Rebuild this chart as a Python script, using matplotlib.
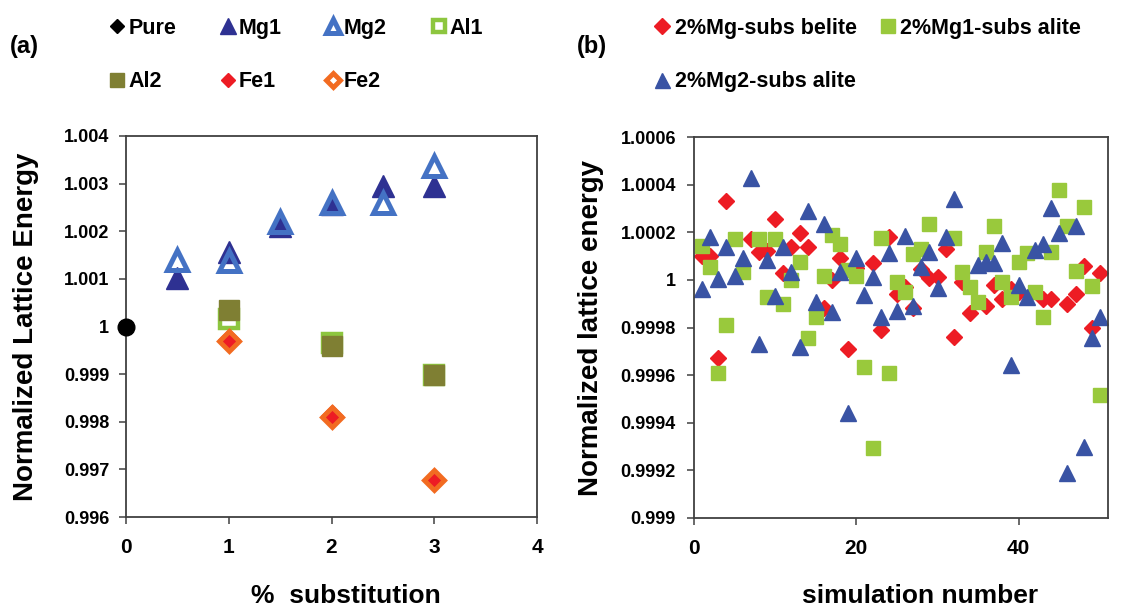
import matplotlib
matplotlib.use('Agg')
import matplotlib.pyplot as plt
from matplotlib.lines import Line2D

plt.rcParams['font.family'] = ['Liberation Sans', 'DejaVu Sans']
plt.rcParams['font.weight'] = 'bold'

# ---------------- data: panel (a) ----------------
pure_x = [0]
pure_y = [1.0]
mg1_x = [0.5, 1, 1.5, 2, 2.5, 3]
mg1_y = [1.00102, 1.00157, 1.00212, 1.00258, 1.00294, 1.00294]
mg2_x = [0.5, 1, 1.5, 2, 2.5, 3]
mg2_y = [1.00140, 1.00137, 1.00220, 1.00260, 1.00260, 1.00336]
al1_x = [1, 2, 3]
al1_y = [1.00016, 0.99966, 0.99899]
al2_x = [1, 2, 3]
al2_y = [1.00034, 0.99960, 0.99899]
fe1_x = [1, 2, 3]
fe1_y = [0.99971, 0.99812, 0.99678]
fe2_x = [1, 2, 3]
fe2_y = [0.99969, 0.99810, 0.99677]

a_xticks = [0, 1, 2, 3, 4]
a_yticks = [0.996, 0.997, 0.998, 0.999, 1.0, 1.001, 1.002, 1.003, 1.004]
a_yticklabels = ['0.996', '0.997', '0.998', '0.999', '1', '1.001', '1.002', '1.003', '1.004']

# ---------------- data: panel (b) ----------------
belite_x = [1, 2, 3, 4, 7, 8, 9, 10, 11, 12, 13, 14, 16, 17, 18, 19, 20, 22, 23, 24,
            25, 26, 27, 28, 29, 30, 31, 32, 33, 34, 36, 37, 38, 39, 40, 43, 44, 46, 47,
            48, 49, 50]
belite_y = [1.0001, 1.0001, 0.99967, 1.00033, 1.00017, 1.000115, 1.00012, 1.000256,
            1.00003, 1.000137, 1.000196, 1.000137, 0.99988, 1.0, 1.00009, 0.99971,
            1.00005, 1.00007, 0.99979, 1.00018, 0.99994, 0.99997, 0.99988, 1.000045,
            1.000007, 1.000014, 1.00013, 0.99976, 0.99999, 0.99986, 0.99989, 0.99998,
            0.99992, 0.99996, 0.99995, 0.99992, 0.99992, 0.9999, 0.99994, 1.00006,
            0.9998, 1.00003]
alite1_x = [1, 2, 3, 4, 5, 6, 8, 9, 10, 11, 12, 13, 14, 15, 16, 17, 18, 19, 20, 21,
            22, 23, 24, 25, 26, 27, 28, 29, 32, 33, 34, 35, 36, 37, 38, 39, 40, 41,
            42, 43, 44, 45, 46, 47, 48, 49, 50]
alite1_y = [1.000143, 1.000053, 0.99961, 0.999811, 1.000171, 1.000035, 1.000171,
            0.99993, 1.000171, 0.999899, 1.0, 1.000077, 0.999758, 0.999846, 1.000017,
            1.000189, 1.000151, 1.00004, 1.000017, 0.999636, 0.999294, 1.000175,
            0.99961, 0.999989, 0.999947, 1.000109, 1.000129, 1.000235, 1.000175,
            1.000035, 0.999972, 0.999909, 1.000119, 1.000227, 0.999993, 0.99993,
            1.000073, 1.000112, 0.999947, 0.999842, 1.000119, 1.000378, 1.000225,
            1.000039, 1.000308, 0.999975, 0.999517]
alite2_x = list(range(1, 33)) + list(range(35, 51))
alite2_y = [0.99996, 1.000178, 1.000003, 1.00014, 1.000017, 1.000091, 1.000426,
            0.99973, 1.000084, 0.999934, 1.000137, 1.000035, 0.99972, 1.00029,
            0.999906, 1.000235, 0.999867, 1.000031, 0.99944, 1.000091, 0.999937,
            1.000014, 0.999846, 1.000112, 0.99987, 1.000185, 0.999891, 1.000056,
            1.000115, 0.999965, 1.000179, 1.00034,
            1.000063, 1.000073, 1.00007, 1.000154, 0.999643, 0.999979, 0.99993,
            1.000126, 1.00015, 1.000301, 1.000196, 0.999188, 1.000227, 0.9993,
            0.999755, 0.999843]

b_xticks = [0, 20, 40]
b_yticks = [0.999, 0.9992, 0.9994, 0.9996, 0.9998, 1.0, 1.0002, 1.0004, 1.0006]
b_yticklabels = ['0.999', '0.9992', '0.9994', '0.9996', '0.9998', '1', '1.0002',
                 '1.0004', '1.0006']

# ---------------- figure ----------------
W, H = 1127, 610
fig = plt.figure(figsize=(W / 100, H / 100), dpi=100)


def px_rect(l, t, r, b):
    return [l / W, 1 - b / H, (r - l) / W, (b - t) / H]


axA = fig.add_axes(px_rect(126, 136, 537, 517))
axB = fig.add_axes(px_rect(694, 137, 1108, 518))

C_MG1 = '#2E3192'
C_MG2 = '#4472C4'
C_AL1 = '#8DC63F'
C_AL2 = '#7F7F33'
C_FE1 = '#ED1C24'
C_FE2 = '#F26B21'

C_RED = '#ED1C24'
C_GREEN = '#99C93C'
C_BLUE = '#3953A4'

# ---- panel (a)
axA.plot(pure_x, pure_y, 'o', ms=12, color='black', clip_on=False, zorder=5)
h_mg1, = axA.plot(mg1_x, mg1_y, '^', ms=16, color=C_MG1, mec=C_MG1, label='Mg1')
h_mg2, = axA.plot(mg2_x, mg2_y, '^', ms=15, mfc='none', mec=C_MG2, mew=3.6, label='Mg2')
h_al1, = axA.plot(al1_x, al1_y, 's', ms=12.5, mfc='none', mec=C_AL1, mew=3.2, label='Al1')
h_al2, = axA.plot(al2_x, al2_y, 's', ms=14.5, color=C_AL2, mec=C_AL2, label='Al2')
h_fe1, = axA.plot(fe1_x, fe1_y, 'D', ms=11, color=C_FE1, mec=C_FE1, label='Fe1')
h_fe2, = axA.plot(fe2_x, fe2_y, 'D', ms=10, mfc='none', mec=C_FE2, mew=3.5, label='Fe2')
h_pure = Line2D([], [], marker='D', ls='none', ms=11, color='black', label='Pure')

axA.set_xlim(0, 4)
axA.set_ylim(0.996, 1.004)
axA.set_xticks(a_xticks)
axA.set_xticklabels([str(v) for v in a_xticks])
axA.set_yticks(a_yticks)
axA.set_yticklabels(a_yticklabels)
axA.set_ylabel('Normalized Lattice Energy', fontsize=20, fontweight='bold', va='center')
axA.yaxis.set_label_coords(-0.243, 0.5)
axA.set_xlabel('%  substitution', fontsize=19, fontweight='bold', va='baseline')
axA.xaxis.set_label_coords(0.534, (517 - 603) / 381)

# ---- panel (b)
h_bel, = axB.plot(belite_x, belite_y, 'D', ms=8.5, color=C_RED, mec=C_RED,
                  label='2%Mg-subs belite')
h_al1b, = axB.plot(alite1_x, alite1_y, 's', ms=10.5, color=C_GREEN, mec=C_GREEN,
                   label='2%Mg1-subs alite')
h_al2b, = axB.plot(alite2_x, alite2_y, '^', ms=12, color=C_BLUE, mec=C_BLUE,
                   label='2%Mg2-subs alite')
axB.set_xlim(0, 51)
axB.set_ylim(0.999, 1.0006)
axB.set_xticks(b_xticks)
axB.set_xticklabels([str(v) for v in b_xticks])
axB.set_yticks(b_yticks)
axB.set_yticklabels(b_yticklabels)
axB.set_ylabel('Normalized lattice energy', fontsize=20, fontweight='bold', va='center')
axB.yaxis.set_label_coords((591 - 694) / 414, 0.5)
axB.set_xlabel('simulation number', fontsize=19, fontweight='bold', va='baseline')
axB.xaxis.set_label_coords(0.546, (518 - 603) / 381)

for ax, ypad in ((axA, 7), (axB, 8)):
    for s in ax.spines.values():
        s.set_color('#404040')
        s.set_linewidth(1.3)
    ax.tick_params(axis='y', direction='out', length=5, width=1.1, color='#404040',
                   labelsize=13, pad=ypad)
    ax.tick_params(axis='x', direction='out', length=5, width=1.1, color='#404040',
                   labelsize=15, pad=10)
    for lab in ax.get_xticklabels() + ax.get_yticklabels():
        lab.set_fontweight('bold')

# ---- legends
legA = fig.legend(handles=[h_pure, h_al2, h_mg1, h_fe1, h_mg2, h_fe2, h_al1],
                  ncol=4, loc='upper left', bbox_to_anchor=(111 / W, 1 - 18 / H),
                  frameon=False, markerscale=0.68, handlelength=0.6,
                  handletextpad=0.2, columnspacing=2.1, labelspacing=1.5,
                  borderpad=0, borderaxespad=0, prop={'weight': 'bold', 'size': 15.5})
legB = fig.legend(handles=[h_bel, h_al2b, h_al1b], ncol=2, loc='upper left',
                  bbox_to_anchor=(656 / W, 1 - 18 / H), frameon=False,
                  markerscale=0.9, handlelength=0.6, handletextpad=0.3,
                  columnspacing=1.1, labelspacing=1.5, borderpad=0, borderaxespad=0,
                  prop={'weight': 'bold', 'size': 15.5})

fig.text(24 / W, 1 - 47 / H, '(a)', fontsize=17, fontweight='bold', ha='center', va='center')
fig.text(592 / W, 1 - 47 / H, '(b)', fontsize=17, fontweight='bold', ha='center', va='center')

fig.savefig('out.png', dpi=100)
